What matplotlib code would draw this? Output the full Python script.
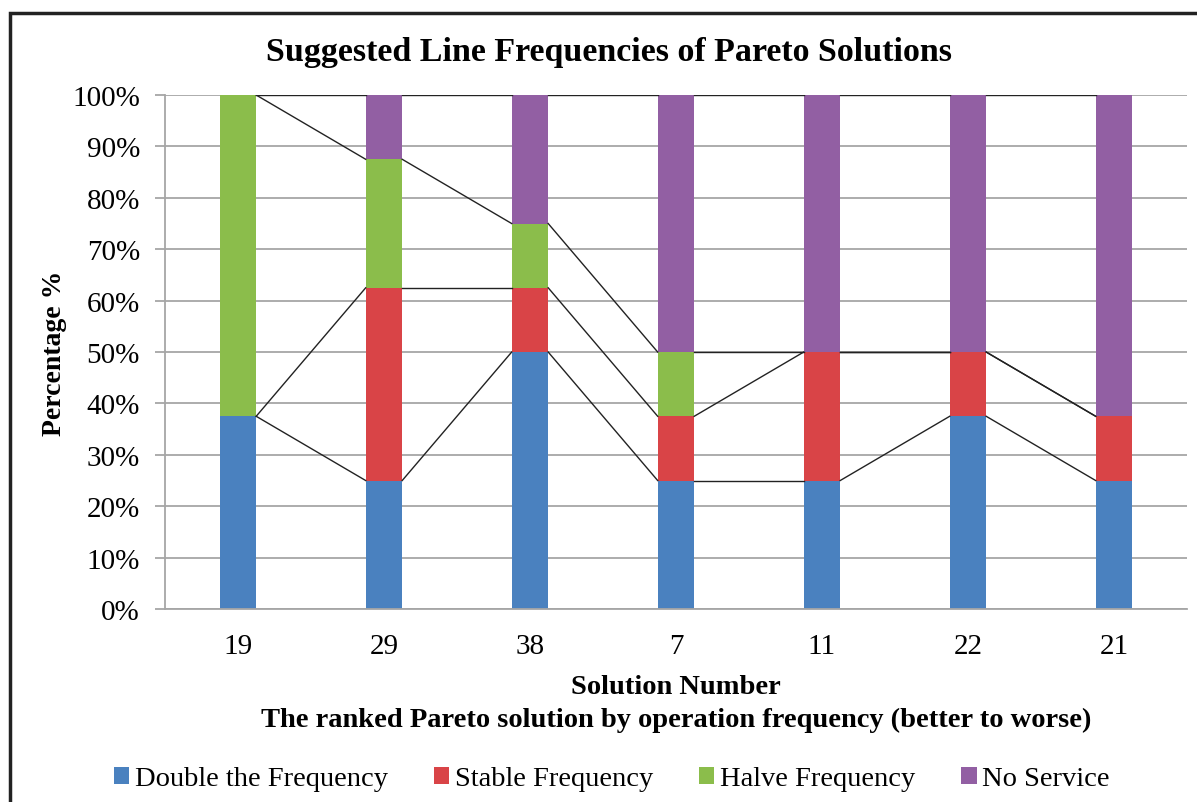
import matplotlib
matplotlib.use("Agg")
import matplotlib.pyplot as plt
from matplotlib.patches import Rectangle
import numpy as np

plt.rcParams["font.family"] = ["Liberation Serif", "DejaVu Serif"]

solutions = ["19", "29", "38", "7", "11", "22", "21"]
series_names = ["Double the Frequency", "Stable Frequency", "Halve Frequency", "No Service"]
double_freq = [37.5, 25, 50, 25, 25, 37.5, 25]
stable_freq = [0, 37.5, 12.5, 12.5, 25, 12.5, 12.5]
halve_freq = [62.5, 25, 12.5, 12.5, 0, 0, 0]
no_service = [0, 12.5, 25, 50, 50, 50, 62.5]
colors = ["#4a81bf", "#d94447", "#8bbd4b", "#925fa3"]

def main():
  fig = plt.figure(figsize=(11.97, 8.03), dpi=100)
  ax = fig.add_axes([0.1378, 0.2403, 0.8538, 0.6401])

  x = np.arange(len(solutions))
  width = 0.25
  bottom = np.zeros(len(solutions))
  tops = []
  handles = []
  for vals, name, c in zip([double_freq, stable_freq, halve_freq, no_service], series_names, colors):
    vals = np.array(vals, dtype=float)
    h = ax.bar(x, vals, width, bottom=bottom, color=c, label=name, zorder=2)
    handles.append(h)
    bottom = bottom + vals
    tops.append(bottom.copy())

  # series lines between bar tops
  for top in tops:
    for j in range(len(solutions) - 1):
      ax.plot([x[j] + width / 2, x[j + 1] - width / 2], [top[j], top[j + 1]],
              color="#222222", linewidth=1, zorder=3)

  ax.set_xlim(-0.5, len(solutions) - 0.5)
  ax.set_ylim(0, 100)
  ax.set_yticks(np.arange(0, 101, 10))
  ax.set_yticklabels(["%d%%" % v for v in range(0, 101, 10)])
  ax.set_xticks(x)
  ax.set_xticklabels(solutions)
  ax.yaxis.grid(True, color="#a6a6a6", linewidth=1.3, zorder=0)
  ax.set_axisbelow(True)
  for s in ["top", "right"]:
    ax.spines[s].set_visible(False)
  ax.spines["left"].set_color("#a6a6a6")
  ax.spines["left"].set_linewidth(1.3)
  ax.spines["bottom"].set_color("#a6a6a6")
  ax.spines["bottom"].set_linewidth(1.3)
  ax.tick_params(axis="y", length=7, width=1.3, color="#a6a6a6", pad=11, labelsize=21)
  ax.tick_params(axis="x", length=0, pad=17, labelsize=21)

  ax.set_ylabel("Percentage %", fontsize=20, fontweight="bold", labelpad=3.5)
  ax.set_xlabel("Solution Number\nThe ranked Pareto solution by operation frequency (better to worse)",
                fontsize=20.5, fontweight="bold", labelpad=11, linespacing=1.42)
  fig.text(0.5085, 0.935, "Suggested Line Frequencies of Pareto Solutions",
           ha="center", va="center", fontsize=24.5, fontweight="bold")

  fig.legend(handles=handles, labels=series_names, loc="center", bbox_to_anchor=(0.511, 0.029),
             ncol=4, frameon=False, fontsize=20.5, handlelength=0.55, handleheight=0.55,
             handletextpad=0.2, columnspacing=1.6)

  fig.patches.append(Rectangle((10 / 1197, -0.1), 1.2, (803 - 14) / 803 + 0.1,
                               transform=fig.transFigure, fill=False, edgecolor="#222222",
                               linewidth=2.5))

  plt.savefig("out.png", dpi=100)

if __name__ == "__main__":
  main()
